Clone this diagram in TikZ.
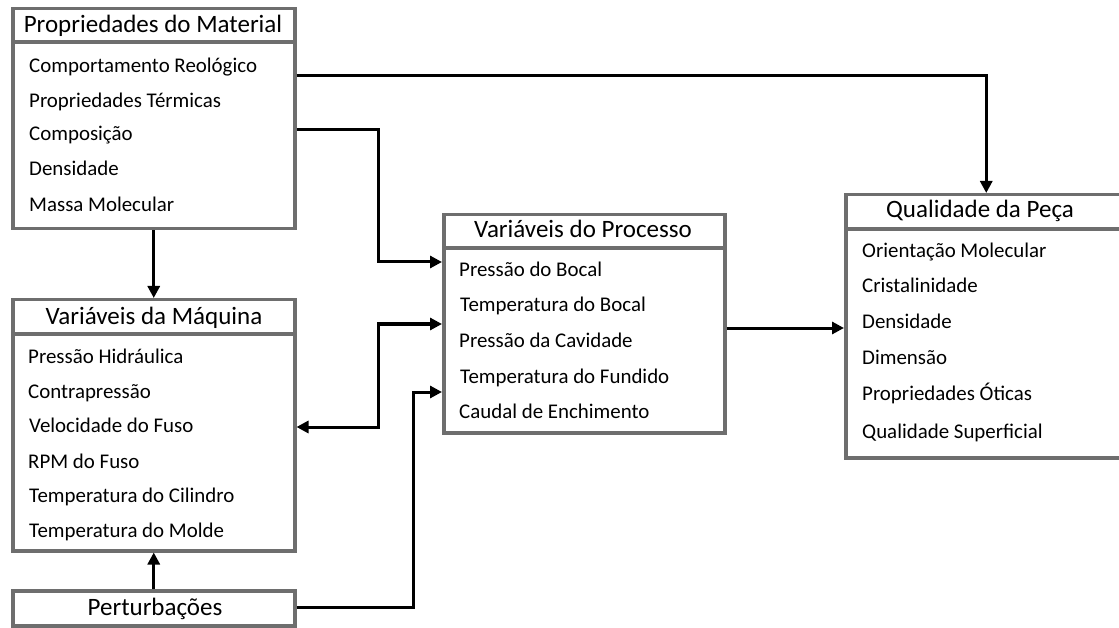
\documentclass[tikz,border=0pt]{standalone}
\usepackage{fontspec}
\setmainfont{Carlito}
\usetikzlibrary{arrows.meta}
\definecolor{boxgray}{HTML}{6E6E6E}
\tikzset{
  box/.style={draw=boxgray, line width=3.5pt, fill=white, rectangle, inner sep=0pt, anchor=north west},
  sepline/.style={draw=boxgray, line width=3.5pt},
  ttl/.style={inner sep=0pt, anchor=base, font=\fontsize{25}{28}\selectfont},
  itm/.style={inner sep=0pt, anchor=base west, font=\fontsize{20.9}{24}\selectfont},
  conn/.style={draw=black, line width=3pt, line join=miter},
  tip/.style={-{Triangle[length=12pt,width=12pt]}},
  twotip/.style={{Triangle[length=12pt,width=12pt]}-{Triangle[length=12pt,width=12pt]}}
}
\begin{document}
\begin{tikzpicture}[x=1pt,y=-1pt]
\useasboundingbox (0,0) rectangle (1119,628);
\clip (0,0) rectangle (1119,628);

% Propriedades do Material
\node[box, minimum width=282pt, minimum height=220pt] (mat) at (11,7) {};
\draw[sepline] (11,42) -- (293,42);
\node[ttl] (matT) at (153,33) {Propriedades do Material};
\node[itm] (m1) at (29,72.5) {Comportamento Reológico};
\node[itm] (m2) at (29,107.5) {Propriedades Térmicas};
\node[itm] (m3) at (29,141) {Composição};
\node[itm] (m4) at (29,176) {Densidade};
\node[itm] (m5) at (29,212) {Massa Molecular};

% Variáveis da Máquina
\node[box, minimum width=282pt, minimum height=251pt] (mach) at (11,298) {};
\draw[sepline] (11,334) -- (293,334);
\node[ttl] (machT) at (154,324) {Variáveis da Máquina};
\node[itm] (v1) at (28,363) {Pressão Hidráulica};
\node[itm] (v2) at (28,398) {Contrapressão};
\node[itm] (v3) at (29,432) {Velocidade do Fuso};
\node[itm] (v4) at (28,468) {RPM do Fuso};
\node[itm] (v5) at (29,502) {Temperatura do Cilindro};
\node[itm] (v6) at (29,537) {Temperatura do Molde};

% Perturbações
\node[box, minimum width=282pt, minimum height=35pt] (pert) at (11,589) {};
\node[ttl] (pertT) at (155,615.5) {Perturbações};

% Variáveis do Processo
\node[box, minimum width=281pt, minimum height=218pt] (proc) at (442,213) {};
\draw[sepline] (442,248) -- (723,248);
\node[ttl] (procT) at (583,238) {Variáveis do Processo};
\node[itm] (p1) at (459,277) {Pressão do Bocal};
\node[itm] (p2) at (460,312) {Temperatura do Bocal};
\node[itm] (p3) at (459,348) {Pressão da Cavidade};
\node[itm] (p4) at (460,383) {Temperatura do Fundido};
\node[itm] (p5) at (459,418) {Caudal de Enchimento};

% Qualidade da Peça
\node[box, minimum width=281pt, minimum height=263pt] (qual) at (844,193) {};
\draw[sepline] (844,229) -- (1125,229);
\node[ttl] (qualT) at (980,218) {Qualidade da Peça};
\node[itm] (q1) at (862,258) {Orientação Molecular};
\node[itm] (q2) at (862,293) {Cristalinidade};
\node[itm] (q3) at (862,329) {Densidade};
\node[itm] (q4) at (862,364) {Dimensão};
\node[itm] (q5) at (862,400) {Propriedades Óticas};
\node[itm] (q6) at (862,438) {Qualidade Superficial};

% Connectors
\coordinate (j1) at (378,130);
\coordinate (j2) at (378,324);
\coordinate (j3) at (413,392);

\draw[conn,tip] (mat.east |- 0,76) -| (qual.north);
\draw[conn,tip] (mat.east |- j1) -- (j1) |- (proc.west |- 0,262);
\draw[conn,twotip] (mach.east |- 0,427) -| (j2) -- (proc.west |- j2);
\draw[conn,tip] (pert.east |- 0,607) -| (j3) -- (proc.west |- j3);
\draw[conn,tip] (proc.east |- 0,328) -- (qual.west |- 0,328);
\draw[conn,tip] (mat.south) -- (mach.north);
\draw[conn,tip] (pert.north) -- (mach.south);
\end{tikzpicture}
\end{document}
